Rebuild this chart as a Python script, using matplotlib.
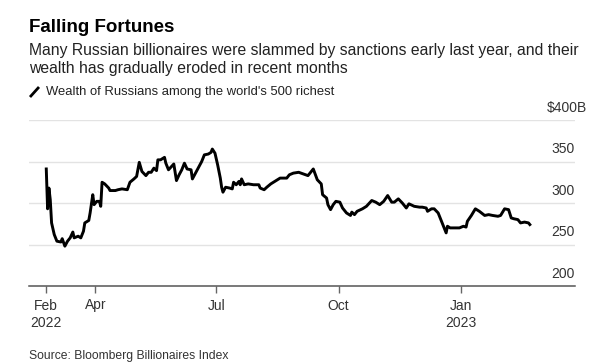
import pandas as pd
import matplotlib.pyplot as plt
from matplotlib.lines import Line2D

plt.rcParams['font.family'] = ['Liberation Sans', 'DejaVu Sans']

# Wealth of Russians among the world's 500 richest ($B)
dates = ['2022-02-23', '2022-02-24', '2022-02-25', '2022-02-26', '2022-02-27', '2022-03-01',
         '2022-03-03', '2022-03-06', '2022-03-07', '2022-03-09', '2022-03-11', '2022-03-13',
         '2022-03-15', '2022-03-16', '2022-03-19', '2022-03-21', '2022-03-23', '2022-03-24',
         '2022-03-27', '2022-03-28', '2022-03-30', '2022-03-31', '2022-04-02', '2022-04-04',
         '2022-04-05', '2022-04-06', '2022-04-08', '2022-04-11', '2022-04-12', '2022-04-16',
         '2022-04-18', '2022-04-21', '2022-04-25', '2022-04-27', '2022-04-30', '2022-05-02',
         '2022-05-04', '2022-05-06', '2022-05-09', '2022-05-11', '2022-05-13', '2022-05-15',
         '2022-05-17', '2022-05-18', '2022-05-20', '2022-05-23', '2022-05-24', '2022-05-26',
         '2022-05-30', '2022-06-01', '2022-06-03', '2022-06-05', '2022-06-07', '2022-06-09',
         '2022-06-12', '2022-06-13', '2022-06-16', '2022-06-20', '2022-06-22', '2022-06-25',
         '2022-06-27', '2022-06-28', '2022-06-30', '2022-07-02', '2022-07-04', '2022-07-05',
         '2022-07-06', '2022-07-08', '2022-07-11', '2022-07-13', '2022-07-14', '2022-07-16',
         '2022-07-18', '2022-07-19', '2022-07-20', '2022-07-22', '2022-07-25', '2022-07-29',
         '2022-08-02', '2022-08-03', '2022-08-06', '2022-08-08', '2022-08-11', '2022-08-14',
         '2022-08-18', '2022-08-23', '2022-08-25', '2022-08-28', '2022-09-01', '2022-09-08',
         '2022-09-12', '2022-09-15', '2022-09-18', '2022-09-19', '2022-09-22', '2022-09-23',
         '2022-09-25', '2022-09-27', '2022-09-29', '2022-10-02', '2022-10-04', '2022-10-07',
         '2022-10-10', '2022-10-11', '2022-10-13', '2022-10-15', '2022-10-19', '2022-10-22',
         '2022-10-26', '2022-10-29', '2022-11-01', '2022-11-04', '2022-11-07', '2022-11-10',
         '2022-11-12', '2022-11-15', '2022-11-18', '2022-11-21', '2022-11-23', '2022-11-27',
         '2022-12-01', '2022-12-03', '2022-12-06', '2022-12-07', '2022-12-10', '2022-12-12',
         '2022-12-15', '2022-12-17', '2022-12-19', '2022-12-21', '2022-12-22', '2022-12-24',
         '2022-12-27', '2022-12-31', '2023-01-03', '2023-01-05', '2023-01-06', '2023-01-09',
         '2023-01-12', '2023-01-15', '2023-01-19', '2023-01-22', '2023-01-25', '2023-01-29',
         '2023-01-31', '2023-02-03', '2023-02-06', '2023-02-08', '2023-02-10', '2023-02-13',
         '2023-02-15', '2023-02-18', '2023-02-21', '2023-02-22']
wealth = [341, 293, 318, 304, 276, 262,
          254, 253, 257, 248, 254, 258,
          265, 258, 260, 258, 266, 276,
          279, 288, 310, 298, 302, 302,
          296, 325, 323, 318, 315, 315,
          316, 317, 316, 325, 329, 332,
          349, 338, 333, 337, 337, 342,
          339, 352, 352, 355, 348, 340,
          347, 327, 334, 340, 348, 341,
          340, 329, 338, 350, 358, 359,
          361, 365, 360, 346, 330, 319,
          313, 319, 318, 317, 325, 322,
          326, 322, 329, 322, 323, 322,
          322, 318, 316, 319, 323, 326,
          330, 330, 334, 336, 337, 333,
          341, 328, 323, 310, 306, 298,
          292, 298, 302, 301, 294, 288,
          285, 289, 286, 290, 293, 296,
          303, 301, 298, 302, 309, 301,
          301, 305, 300, 294, 299, 296,
          295, 295, 294, 290, 293, 293,
          288, 280, 272, 264, 272, 270,
          270, 270, 272, 271, 278, 285,
          293, 290, 285, 286, 285, 284,
          285, 293, 292, 282, 281, 280,
          276, 277, 276, 274]

y_ticks = [200, 250, 300, 350, 400]
x_tick_dates = ['2022-02-23', '2022-04-01', '2022-07-01', '2022-10-01', '2023-01-01']
x_tick_labels = ['Feb\n2022', 'Apr', 'Jul', 'Oct', 'Jan\n2023']

W, H = 616, 364
fig = plt.figure(figsize=(W / 100, H / 100), dpi=100)
ax = fig.add_axes([29 / W, 78 / H, 546 / W, 166 / H])

x = pd.to_datetime(dates)
ax.plot(x, wealth, color='black', lw=2.1, solid_joinstyle='round', zorder=3)

ax.set_ylim(200, 400)
ax.set_xlim(pd.Timestamp('2022-02-10'), pd.Timestamp('2023-03-28'))

for v in y_ticks[1:]:
    ax.axhline(v, color='#e3e3e3', lw=1, zorder=1)
for s in ['top', 'right', 'left']:
    ax.spines[s].set_visible(False)
ax.spines['bottom'].set_color('#555555')
ax.spines['bottom'].set_linewidth(1.1)

ax.set_yticks([])
for v in y_ticks:
    label = '$%dB' % v if v == y_ticks[-1] else str(v)
    dx = 9 if v == y_ticks[-1] else 0
    ax.annotate(label, xy=(1, v), xycoords=('axes fraction', 'data'),
                xytext=(dx, 6), textcoords='offset points',
                ha='right', va='baseline', fontsize=10, color='#333333')

ax.set_xticks(pd.to_datetime(x_tick_dates))
ax.set_xticklabels(x_tick_labels, fontsize=10, color='#333333', linespacing=1.35)
ax.tick_params(axis='x', length=5, width=1, color='#666666', pad=4)

fig.text(29 / W, 1 - 27 / H, 'Falling Fortunes', fontsize=13.5, fontweight='bold',
         va='center', ha='left', color='black',
         family=['Liberation Sans Narrow', 'Liberation Sans'])
fig.text(29 / W, 1 - 50 / H,
         'Many Russian billionaires were slammed by sanctions early last year, and their',
         fontsize=11.35, va='center', ha='left', color='#222222')
fig.text(29 / W, 1 - 69 / H, 'wealth has gradually eroded in recent months',
         fontsize=11.35, va='center', ha='left', color='#222222')
# legend icon: short slanted stroke
fig.add_artist(Line2D([30 / W, 39 / W], [1 - 97 / H, 1 - 87 / H], color='black',
                      lw=2, solid_capstyle='butt'))
fig.text(46 / W, 1 - 92 / H, "Wealth of Russians among the world's 500 richest",
         fontsize=9.4, va='center', ha='left', color='#222222')
fig.text(29 / W, 1 - 356 / H, 'Source: Bloomberg Billionaires Index',
         fontsize=8.7, va='center', ha='left', color='#333333')

fig.savefig('out.png', dpi=100)
